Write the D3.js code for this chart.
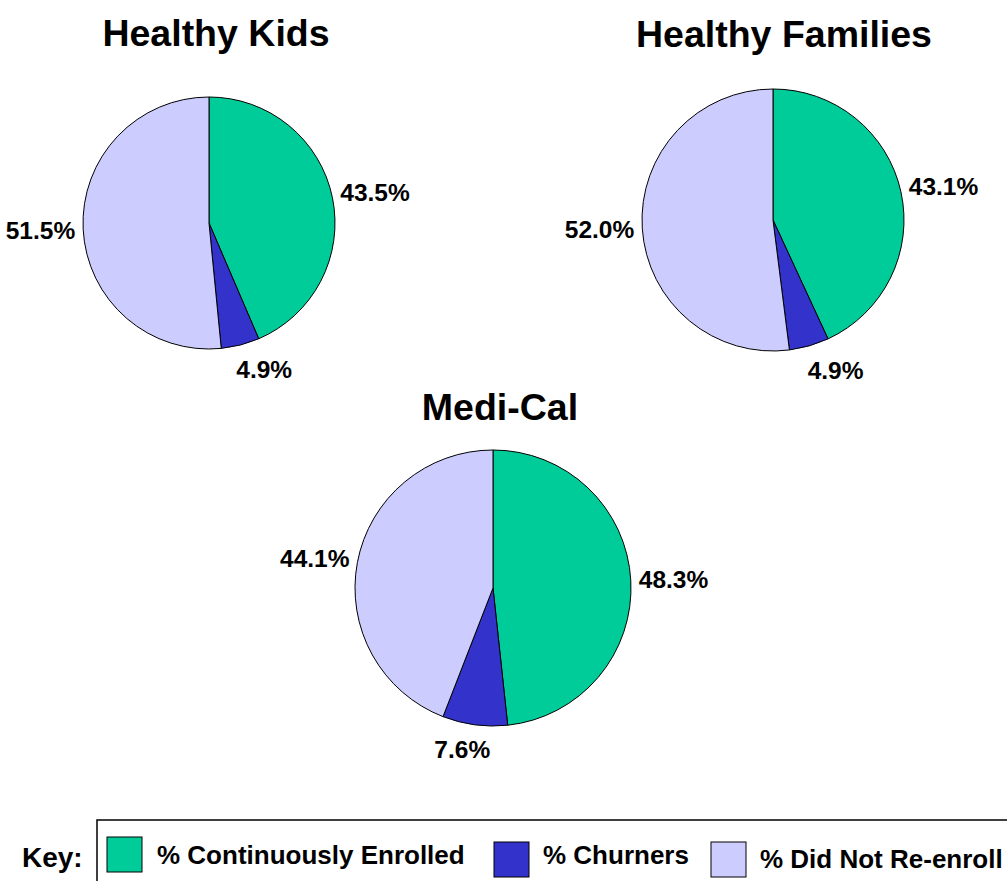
<!DOCTYPE html>
<html>
<head>
<meta charset="utf-8">
<script src="https://cdn.jsdelivr.net/npm/d3@7"></script>
<style>
  body { margin: 0; background: #fff; }
  svg { display: block; font-family: 'Liberation Sans', Arial, sans-serif; font-weight: bold; }
</style>
</head>
<body>
<script>
// ==================== Data ============================
const programs = ['Healthy Kids', 'Healthy Families', 'Medi-Cal'];
const categories = ['% Continuously Enrolled', '% Churners', '% Did Not Re-enroll'];
const healthyKids = [43.5, 4.9, 51.5];
const healthyFamilies = [43.1, 4.9, 52.0];
const mediCal = [48.3, 7.6, 44.1];
const colors = ['#00CC99', '#3333CC', '#CCCCFF'];

// ==================== Layout ============================
const width = 1007, height = 881;
const pieLayout = [
  {values: healthyKids,     cx: 209, cy: 223, r: 126, titleX: 216, titleY: 46},
  {values: healthyFamilies, cx: 773, cy: 220, r: 131, titleX: 784, titleY: 47},
  {values: mediCal,         cx: 493, cy: 588, r: 138, titleX: 500, titleY: 420}
];
const legendLayout = [
  {sx: 107, sy: 837, tx: 157, ty: 864},
  {sx: 494, sy: 842, tx: 543, ty: 864},
  {sx: 711, sy: 842, tx: 760, ty: 868}
];

const svg = d3.select('body')
  .append('svg')
    .attr('width', width)
    .attr('height', height);

const pie = d3.pie().sort(null).value((d) => d);

// ==================== Pies ============================
pieLayout.forEach((p, i) => {
  const g = svg.append('g')
      .attr('transform', `translate(${p.cx}, ${p.cy})`);

  const arc = d3.arc().innerRadius(0).outerRadius(p.r);
  const arcs = pie(p.values);

  g.selectAll('path')
    .data(arcs)
    .enter()
    .append('path')
      .attr('d', arc)
      .attr('fill', (d, j) => colors[j])
      .attr('stroke', '#000')
      .attr('stroke-width', 1);

  // Title
  svg.append('text')
      .attr('x', p.titleX)
      .attr('y', p.titleY)
      .attr('text-anchor', 'middle')
      .style('font-size', '37.5px')
      .text(programs[i]);

  // Labels placed just outside the rim at each slice's mid angle
  arcs.forEach((d) => {
    const mid = (d.startAngle + d.endAngle) / 2;
    const dx = Math.sin(mid), dy = -Math.cos(mid);
    const t = g.append('text')
        .attr('text-anchor', 'middle')
        .attr('dy', '0.35em')
        .style('font-size', '24.5px')
        .text(d.value.toFixed(1) + '%');
    const w = t.node().getComputedTextLength() + 4;
    const h = 38;
    const px = (p.r + 6) * dx, py = (p.r + 6) * dy;
    const kx = Math.max(-1, Math.min(1, dx * 3));
    t.attr('x', px + kx * w / 2)
     .attr('y', py + dy * h / 2);
  });
});

// ==================== Legend ============================
svg.append('text')
    .attr('x', 22)
    .attr('y', 867)
    .style('font-size', '28px')
    .text('Key:');

svg.append('rect')
    .attr('x', 97)
    .attr('y', 820)
    .attr('width', 1000)
    .attr('height', 100)
    .attr('fill', 'none')
    .attr('stroke', '#000')
    .attr('stroke-width', 1.5);

categories.forEach((c, i) => {
  const l = legendLayout[i];
  svg.append('rect')
      .attr('x', l.sx)
      .attr('y', l.sy)
      .attr('width', 35)
      .attr('height', 35)
      .attr('fill', colors[i])
      .attr('stroke', '#000')
      .attr('stroke-width', 1);
  svg.append('text')
      .attr('x', l.tx)
      .attr('y', l.ty)
      .style('font-size', '26px')
      .text(c);
});
</script>
</body>
</html>
